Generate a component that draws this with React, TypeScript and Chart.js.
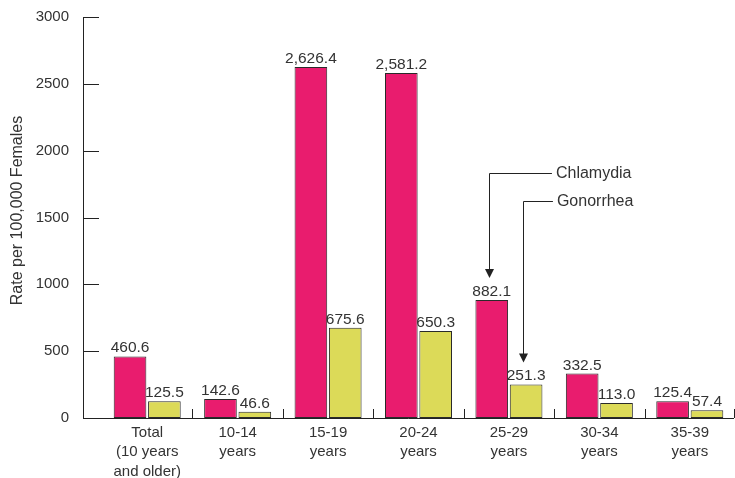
import { useEffect, useRef } from "react";
import { Chart, registerables } from "chart.js";
Chart.register(...registerables);

const categories = [
  ["Total", "(10 years", "and older)"],
  ["10-14", "years"],
  ["15-19", "years"],
  ["20-24", "years"],
  ["25-29", "years"],
  ["30-34", "years"],
  ["35-39", "years"],
];
const chlamydia = [460.6, 142.6, 2626.4, 2581.2, 882.1, 332.5, 125.4];
const gonorrhea = [125.5, 46.6, 675.6, 650.3, 251.3, 113.0, 57.4];
const yTicks = [0, 500, 1000, 1500, 2000, 2500, 3000];
const seriesNames = ["Chlamydia", "Gonorrhea"];
const yTitle = "Rate per 100,000 Females";
const calloutCategory = 4;
const calloutLevels = [1830, 1620];

const FONT = "'Liberation Sans', Arial, Helvetica, sans-serif";
const TEXT = "#333333";
const LINE = "#222222";

const fmt = (v: number) =>
  v.toLocaleString("en-US", { minimumFractionDigits: 1, maximumFractionDigits: 1 });

const decorPlugin = {
  id: "decor",
  afterDatasetsDraw(chart: any) {
    const ctx = chart.ctx;
    const area = chart.chartArea;
    const xs = chart.scales.x;
    const ys = chart.scales.y;
    const axisX = area.left - 19;
    const y0 = ys.getPixelForValue(0);
    const yTop = ys.getPixelForValue(yTicks[yTicks.length - 1]);
    ctx.save();
    ctx.strokeStyle = LINE;
    ctx.lineWidth = 1;
    ctx.beginPath();
    ctx.moveTo(axisX + 0.5, Math.round(yTop) + 0.5);
    ctx.lineTo(axisX + 0.5, Math.round(y0) + 0.5);
    ctx.lineTo(area.right - 1, Math.round(y0) + 0.5);
    for (const t of yTicks) {
      const y = Math.round(ys.getPixelForValue(t)) + 0.5;
      ctx.moveTo(axisX, y);
      ctx.lineTo(axisX + 16, y);
    }
    const n = categories.length;
    for (let i = 1; i <= n; i++) {
      const bx =
        i < n
          ? (xs.getPixelForValue(i - 1) + xs.getPixelForValue(i)) / 2
          : area.right - 1.5;
      const px = Math.round(bx) + 0.5;
      ctx.moveTo(px, y0);
      ctx.lineTo(px, y0 - 9);
    }
    ctx.stroke();

    // y axis title
    ctx.fillStyle = TEXT;
    ctx.font = `16px ${FONT}`;
    ctx.textAlign = "center";
    ctx.textBaseline = "middle";
    ctx.save();
    ctx.translate(18, (yTop + y0) / 2 - 7);
    ctx.rotate(-Math.PI / 2);
    ctx.fillText(yTitle, 0, 0);
    ctx.restore();

    // value labels
    ctx.font = `15.5px ${FONT}`;
    ctx.textAlign = "center";
    ctx.textBaseline = "alphabetic";
    chart.data.datasets.forEach((ds: any, di: number) => {
      const meta = chart.getDatasetMeta(di);
      meta.data.forEach((bar: any, i: number) => {
        ctx.fillText(fmt(ds.data[i]), bar.x, bar.y - 4);
      });
    });

    // callouts
    ctx.font = `16px ${FONT}`;
    ctx.textAlign = "left";
    ctx.textBaseline = "middle";
    seriesNames.forEach((name, di) => {
      const bar = chart.getDatasetMeta(di).data[calloutCategory];
      const ax = Math.round(bar.x - 3) + 0.5;
      const tipY = bar.y - 22;
      const ly = Math.round(ys.getPixelForValue(calloutLevels[di])) + 0.5;
      const textX = xs.getPixelForValue(calloutCategory) + 47 + di;
      ctx.beginPath();
      ctx.moveTo(textX - 4, ly);
      ctx.lineTo(ax, ly);
      ctx.lineTo(ax, tipY - 6);
      ctx.stroke();
      ctx.beginPath();
      ctx.moveTo(ax - 4.5, tipY - 9);
      ctx.lineTo(ax + 4.5, tipY - 9);
      ctx.lineTo(ax, tipY);
      ctx.closePath();
      ctx.fillStyle = LINE;
      ctx.fill();
      ctx.fillStyle = TEXT;
      ctx.fillText(name, textX, ly);
    });
    ctx.restore();
  },
};

export default function App() {
  const ref = useRef<HTMLCanvasElement>(null);
  useEffect(() => {
    document.body.style.margin = "0";
    const chart = new Chart(ref.current!, {
      type: "bar",
      data: {
        labels: categories as any,
        datasets: [
          {
            label: seriesNames[0],
            data: chlamydia,
            backgroundColor: "#E91C6E",
            borderColor: "#2a2a2a",
            borderWidth: 1,
            borderSkipped: false,
          },
          {
            label: seriesNames[1],
            data: gonorrhea,
            backgroundColor: "#DCDA58",
            borderColor: "#2a2a2a",
            borderWidth: 1,
            borderSkipped: false,
          },
        ],
      },
      options: {
        animation: false,
        responsive: false,
        maintainAspectRatio: false,
        datasets: { bar: { categoryPercentage: 0.76, barPercentage: 0.95 } } as any,
        layout: { padding: { top: 17, right: 0, left: 0, bottom: 0 } },
        plugins: { legend: { display: false }, tooltip: { enabled: false } },
        scales: {
          x: {
            grid: { display: false, drawTicks: false },
            border: { display: false },
            ticks: {
              color: TEXT,
              font: { family: FONT, size: 15, lineHeight: 1.3 },
              padding: 5,
              maxRotation: 0,
              autoSkip: false,
            },
            afterFit: (s: any) => {
              s.height = 60;
            },
          },
          y: {
            min: 0,
            max: 3000,
            grid: {
              display: false,
              drawTicks: true,
              tickLength: 32,
              tickColor: "transparent",
            },
            border: { display: false },
            ticks: {
              stepSize: 500,
              color: TEXT,
              font: { family: FONT, size: 15 },
              padding: 1,
              callback: (v: any) => String(v),
            },
            afterFit: (s: any) => {
              s.width = 102;
            },
          },
        },
      },
      plugins: [decorPlugin],
    });
    return () => chart.destroy();
  }, []);
  return (
    <div style={{ width: 735, height: 478 }}>
      <canvas ref={ref} width={735} height={478} style={{ display: "block" }} />
    </div>
  );
}
